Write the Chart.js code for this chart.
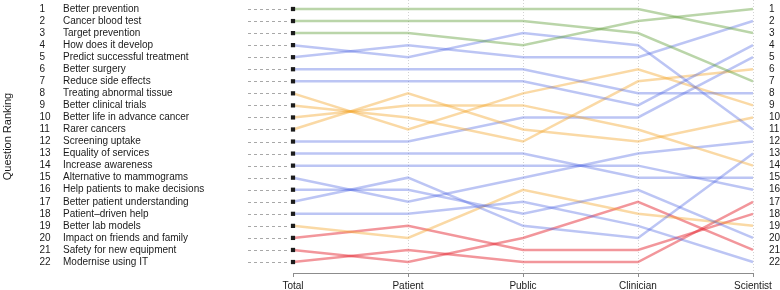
<!DOCTYPE html>
<html>
<head>
<meta charset="utf-8">
<title>Question Ranking</title>
<script src="https://cdn.jsdelivr.net/npm/chart.js@4/dist/chart.umd.min.js"></script>
<style>
  html, body { margin: 0; padding: 0; background: #fff; }
  canvas { display: block; }
</style>
</head>
<body>
<canvas id="rankChart" width="780" height="290"></canvas>
<script>
// Stakeholder groups along the x axis
const groups = ['Total', 'Patient', 'Public', 'Clinician', 'Scientist'];

// Question names, in overall (Total) order
const questions = [
    'Better prevention', 'Cancer blood test', 'Target prevention', 'How does it develop',
    'Predict successful treatment', 'Better surgery', 'Reduce side effects', 'Treating abnormal tissue',
    'Better clinical trials', 'Better life in advance cancer', 'Rarer cancers', 'Screening uptake',
    'Equality of services', 'Increase awareness', 'Alternative to mammograms',
    'Help patients to make decisions', 'Better patient understanding', 'Patient\u2013driven help',
    'Better lab models', 'Impact on friends and family', 'Safety for new equipment', 'Modernise using IT'
];

// Rank of each question for each group
const totalRank     = [1, 2, 3, 4, 5, 6, 7, 8, 9, 10, 11, 12, 13, 14, 15, 16, 17, 18, 19, 20, 21, 22];
const patientRank   = [1, 2, 3, 5, 4, 6, 7, 11, 10, 9, 8, 12, 13, 14, 17, 16, 15, 18, 20, 19, 22, 21];
const publicRank    = [1, 2, 4, 3, 5, 6, 7, 8, 12, 9, 11, 10, 13, 14, 15, 18, 19, 17, 16, 21, 20, 22];
const clinicianRank = [1, 3, 2, 4, 5, 8, 9, 6, 7, 11, 12, 10, 15, 14, 13, 16, 20, 19, 18, 21, 17, 22];
const scientistRank = [3, 7, 1, 11, 2, 8, 4, 9, 6, 14, 10, 5, 15, 16, 12, 20, 13, 22, 19, 18, 21, 17];

// Colour theme of each question's line
const themes = ['g', 'g', 'g', 'b', 'b', 'b', 'b', 'o', 'o', 'o', 'o',
                'b', 'b', 'b', 'b', 'b', 'b', 'b', 'o', 'r', 'r', 'r'];

// Rank labels on the right hand side
const rankTicks = [1, 2, 3, 4, 5, 6, 7, 8, 9, 10, 11, 12, 13, 14, 15, 16, 17, 18, 19, 20, 21, 22];

const lineColour = {
    g: 'rgba(90, 155, 50, 0.42)',
    b: 'rgba(70, 95, 225, 0.36)',
    o: 'rgba(242, 165, 40, 0.42)',
    r: 'rgba(228, 35, 45, 0.48)'
};
const textColour = '#1a1a1a';
const fontFamily = '"Liberation Sans", Arial, Helvetica, sans-serif';

Chart.defaults.font.family = fontFamily;
Chart.defaults.font.size = 10;
Chart.defaults.color = textColour;

// Draws the question list, leader lines and the y title
const sideText = {
    id: 'sideText',
    beforeDatasetsDraw(chart) {
        const { ctx, chartArea, scales: { y } } = chart;
        ctx.save();
        ctx.strokeStyle = '#a8a8a8';
        ctx.lineWidth = 1;
        ctx.setLineDash([3, 3]);
        totalRank.forEach(r => {
            const py = Math.round(y.getPixelForValue(r)) + 0.5;
            ctx.beginPath();
            ctx.moveTo(248, py);
            ctx.lineTo(chartArea.left - 3, py);
            ctx.stroke();
        });
        ctx.restore();
    },
    afterDraw(chart) {
        const { ctx, chartArea, scales: { y } } = chart;
        ctx.save();
        ctx.fillStyle = textColour;
        ctx.font = '10px ' + fontFamily;
        ctx.textBaseline = 'middle';
        ctx.textAlign = 'left';
        questions.forEach((q, i) => {
            const py = y.getPixelForValue(totalRank[i]);
            ctx.fillText(String(totalRank[i]), 39.5, py);
            ctx.fillText(q, 63, py);
        });
        // axis title
        ctx.translate(8, (chartArea.top + chartArea.bottom) / 2);
        ctx.rotate(-Math.PI / 2);
        ctx.textAlign = 'center';
        ctx.font = '11px ' + fontFamily;
        ctx.fillText('Question Ranking', 0, 0);
        ctx.restore();
    }
};

const datasets = questions.map((q, i) => ({
    label: q,
    data: [totalRank[i], patientRank[i], publicRank[i], clinicianRank[i], scientistRank[i]],
    borderColor: lineColour[themes[i]],
    borderWidth: 2.5,
    tension: 0,
    fill: false,
    pointStyle: 'rect',
    pointRadius: [3, 0, 0, 0, 0],
    pointBorderWidth: 0,
    pointBackgroundColor: '#1c1c1c',
    pointBorderColor: '#1c1c1c'
}));

new Chart(document.getElementById('rankChart'), {
    type: 'line',
    data: { labels: groups, datasets: datasets },
    options: {
        responsive: false,
        animation: false,
        devicePixelRatio: 1,
        layout: { autoPadding: false, padding: { left: 293, right: 0, top: 0, bottom: 0 } },
        plugins: {
            legend: { display: false },
            tooltip: { enabled: false }
        },
        scales: {
            x: {
                type: 'category',
                offset: false,
                grid: {
                    color: c => c.index === 0 ? 'rgba(0,0,0,0)' : '#d4d4d4',
                    tickColor: '#8c8c8c',
                    tickLength: 4
                },
                border: { display: true, color: '#8c8c8c', dash: [1, 2] },
                ticks: { color: textColour, font: { size: 10 }, padding: 3, maxRotation: 0, autoSkip: false },
                afterFit(scale) {
                    scale.height = 17;
                }
            },
            y: {
                position: 'right',
                reverse: true,
                min: 0.253,
                max: 22.912,
                grid: { display: false, drawTicks: false },
                border: { display: false },
                afterBuildTicks(scale) {
                    scale.ticks = rankTicks.map(v => ({ value: v }));
                },
                ticks: { color: textColour, font: { size: 10 }, padding: 16, autoSkip: false },
                afterFit(scale) {
                    scale.width = 27;
                    scale.paddingTop = 0;
                    scale.paddingBottom = 0;
                }
            }
        }
    },
    plugins: [sideText]
});
</script>
</body>
</html>
